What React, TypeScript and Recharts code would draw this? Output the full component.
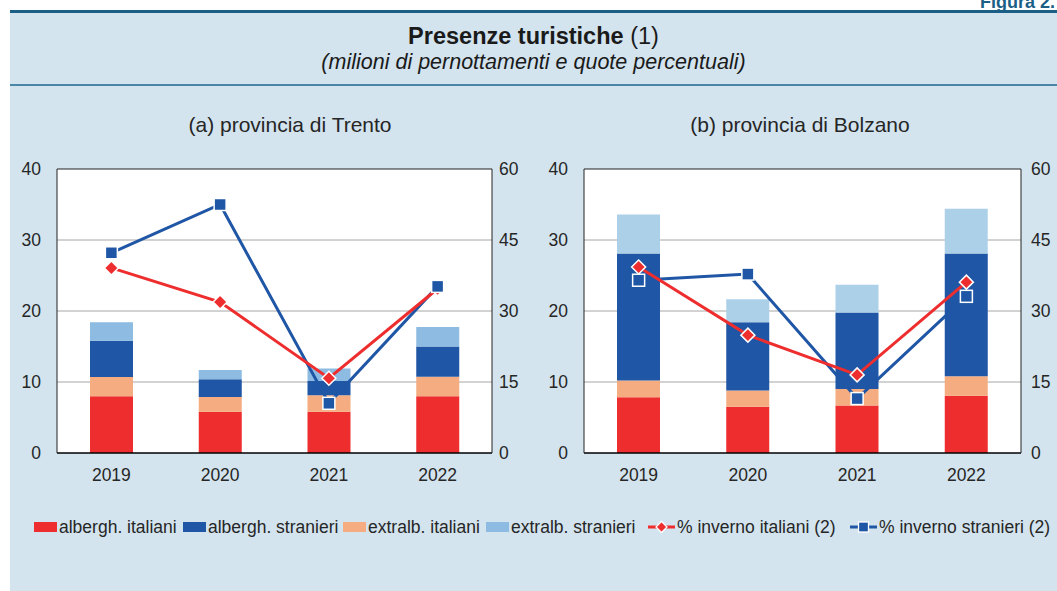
import React from 'react';
import { ComposedChart, Bar, Line, XAxis, YAxis, CartesianGrid, ReferenceLine } from 'recharts';

const years = ['2019', '2020', '2021', '2022'];
const leftTicks = [0, 10, 20, 30, 40];
const rightTicks = [0, 15, 30, 45, 60];

// Trento (milioni di pernottamenti)
const trentoAlbIt = [8.0, 5.8, 5.8, 8.0];
const trentoExtIt = [2.7, 2.1, 2.35, 2.75];
const trentoAlbStr = [5.1, 2.5, 2.0, 4.25];
const trentoExtStr = [2.6, 1.3, 1.75, 2.75];
const trentoInvIt = [39.1, 31.9, 15.8, 34.7];
const trentoInvStr = [42.3, 52.5, 10.5, 35.2];

// Bolzano
const bolzanoAlbIt = [7.85, 6.5, 6.7, 8.05];
const bolzanoExtIt = [2.35, 2.3, 2.3, 2.75];
const bolzanoAlbStr = [17.9, 9.6, 10.8, 17.3];
const bolzanoExtStr = [5.5, 3.25, 3.9, 6.3];
const bolzanoInvIt = [39.3, 24.9, 16.5, 36.1];
const bolzanoInvStr = [36.5, 37.8, 11.5, 33.1];

const RED = '#ee2e2e';
const DBLUE = '#1f56a5';
const ORANGE = '#f4ac80';
const LBLUE_T = '#8dbbe1';
const LBLUE_B = '#acd0e8';
const BG = '#d3e4ee';
const TXT = '#262626';
const FONT = '"Liberation Sans", Arial, sans-serif';

const build = (ai: number[], ei: number[], as: number[], es: number[], ii: number[], is: number[]) =>
  years.map((y, i) => ({ year: y, albIt: ai[i], extIt: ei[i], albStr: as[i], extStr: es[i], invIt: ii[i], invStr: is[i] }));

const trentoData = build(trentoAlbIt, trentoExtIt, trentoAlbStr, trentoExtStr, trentoInvIt, trentoInvStr);
const bolzanoData = build(bolzanoAlbIt, bolzanoExtIt, bolzanoAlbStr, bolzanoExtStr, bolzanoInvIt, bolzanoInvStr);

const SquareDot = (p: any) => {
  if (p.cx == null || p.cy == null) return <g key={p.index} />;
  return <rect key={p.index} x={p.cx - 6} y={p.cy - 6} width={12} height={12} fill={DBLUE} stroke="#fff" strokeWidth={1.5} />;
};
const DiamondDot = (p: any) => {
  if (p.cx == null || p.cy == null) return <g key={p.index} />;
  const { cx, cy } = p;
  return (
    <polygon key={p.index} points={`${cx},${cy - 7} ${cx + 7},${cy} ${cx},${cy + 7} ${cx - 7},${cy}`} fill={RED} stroke="#fff" strokeWidth={1.5} />
  );
};

const tickStyle = { fontSize: 17.5, fill: TXT, fontFamily: FONT };

const Panel = ({ data, lblue, rightWidth, rightMargin }: { data: any[]; lblue: string; rightWidth: number; rightMargin: number }) => (
  <ComposedChart width={530} height={340} data={data} margin={{ top: 19, right: 0, left: 0, bottom: 0 }} barSize={43}>
    <CartesianGrid vertical={false} horizontalValues={[10, 20, 30]} stroke="#a6a6a6" strokeWidth={1} fill="#ffffff" yAxisId="left" />
    <XAxis dataKey="year" height={37} tickLine={false} tickSize={6} tickMargin={10} axisLine={{ stroke: '#000', strokeWidth: 1.5 }} tick={tickStyle} />
    <YAxis yAxisId="left" width={57} domain={[0, 40]} ticks={leftTicks} tickLine={false} tickSize={6} tickMargin={10} axisLine={{ stroke: '#222', strokeWidth: 1 }} tick={tickStyle} />
    <YAxis yAxisId="right" orientation="right" width={rightWidth} domain={[0, 60]} ticks={rightTicks} tickLine={false} tickSize={6} tickMargin={rightMargin} axisLine={{ stroke: '#222', strokeWidth: 1 }} tick={{ ...tickStyle, textAnchor: 'start' }} />
    <ReferenceLine yAxisId="left" y={40} stroke="#222" strokeWidth={1} />
    <Bar yAxisId="left" dataKey="albIt" stackId="s" fill={RED} isAnimationActive={false} />
    <Bar yAxisId="left" dataKey="extIt" stackId="s" fill={ORANGE} isAnimationActive={false} />
    <Bar yAxisId="left" dataKey="albStr" stackId="s" fill={DBLUE} isAnimationActive={false} />
    <Bar yAxisId="left" dataKey="extStr" stackId="s" fill={lblue} isAnimationActive={false} />
    <Line yAxisId="right" dataKey="invStr" stroke={DBLUE} strokeWidth={3} dot={false} activeDot={false} isAnimationActive={false} />
    <Line yAxisId="right" dataKey="invIt" stroke={RED} strokeWidth={3} dot={false} activeDot={false} isAnimationActive={false} />
    <Line yAxisId="right" dataKey="invIt" stroke="none" dot={DiamondDot} activeDot={false} isAnimationActive={false} />
    <Line yAxisId="right" dataKey="invStr" stroke="none" dot={SquareDot} activeDot={false} isAnimationActive={false} />
  </ComposedChart>
);

const RectSwatch = ({ color }: { color: string }) => (
  <span style={{ display: 'inline-block', width: 23, height: 10, background: color, marginRight: 2 }} />
);
const LineSwatch = ({ color, kind }: { color: string; kind: 'diamond' | 'square' }) => (
  <svg width={27} height={14} style={{ marginRight: 2 }}>
    <line x1={0} y1={7} x2={27} y2={7} stroke={color} strokeWidth={3} />
    {kind === 'diamond' ? (
      <polygon points="13.5,1.5 19,7 13.5,12.5 8,7" fill={color} stroke="#fff" strokeWidth={1.3} />
    ) : (
      <rect x={8.5} y={2} width={10} height={10} fill={color} stroke="#fff" strokeWidth={1.3} />
    )}
  </svg>
);

const legendItems: { left: number; label: string; node: React.ReactNode }[] = [
  { left: 34, label: 'albergh. italiani', node: <RectSwatch color={RED} /> },
  { left: 183, label: 'albergh. stranieri', node: <RectSwatch color={DBLUE} /> },
  { left: 343, label: 'extralb. italiani', node: <RectSwatch color={ORANGE} /> },
  { left: 486, label: 'extralb. stranieri', node: <RectSwatch color={LBLUE_T} /> },
  { left: 648, label: '% inverno italiani (2)', node: <LineSwatch color={RED} kind="diamond" /> },
  { left: 850, label: '% inverno stranieri (2)', node: <LineSwatch color={DBLUE} kind="square" /> },
];

export default function App() {
  return (
    <div style={{ position: 'absolute', left: 0, top: 0, width: 1057, height: 591, background: '#fff', overflow: 'hidden', fontFamily: FONT, color: TXT }}>
      <div style={{ position: 'absolute', right: 2, top: -8, fontSize: 18, fontWeight: 'bold', color: '#1b5e86', lineHeight: '20px' }}>Figura 2.</div>
      <div style={{ position: 'absolute', left: 10, top: 10, width: 1047, height: 581, background: BG, borderTop: '3px solid #1b5e86', boxSizing: 'border-box' }} />
      <div style={{ position: 'absolute', left: 10, top: 84, width: 1047, height: 2, background: '#4a87a6' }} />
      <div style={{ position: 'absolute', left: 10, width: 1047, top: 22, textAlign: 'center', fontSize: 23.5, lineHeight: '28px', color: '#1a1a1a' }}>
        <b>Presenze turistiche</b> (1)
      </div>
      <div style={{ position: 'absolute', left: 10, width: 1047, top: 49, textAlign: 'center', fontSize: 21.5, lineHeight: '26px', fontStyle: 'italic', color: '#1a1a1a' }}>
        (milioni di pernottamenti e quote percentuali)
      </div>
      <div style={{ position: 'absolute', left: 10, width: 560, top: 112, textAlign: 'center', fontSize: 21, lineHeight: '26px' }}>(a) provincia di Trento</div>
      <div style={{ position: 'absolute', left: 527, width: 546, top: 112, textAlign: 'center', fontSize: 21, lineHeight: '26px' }}>(b) provincia di Bolzano</div>
      <div style={{ position: 'absolute', left: 0, top: 150 }}>
        <Panel data={trentoData} lblue={LBLUE_T} rightWidth={38} rightMargin={1} />
      </div>
      <div style={{ position: 'absolute', left: 527, top: 150 }}>
        <Panel data={bolzanoData} lblue={LBLUE_B} rightWidth={36} rightMargin={4} />
      </div>
      {legendItems.map((it) => (
        <div key={it.label} style={{ position: 'absolute', left: it.left, top: 516, height: 22, display: 'flex', alignItems: 'center', fontSize: 17.5, whiteSpace: 'nowrap' }}>
          {it.node}
          <span>{it.label}</span>
        </div>
      ))}
    </div>
  );
}
